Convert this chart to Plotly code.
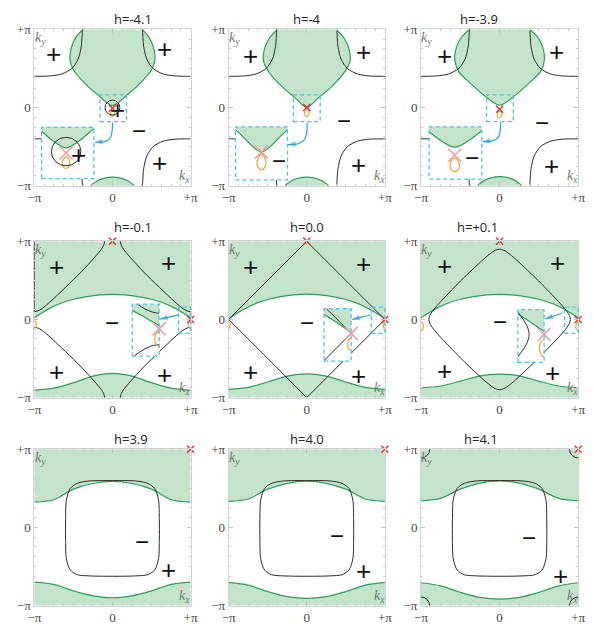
import plotly.graph_objects as go

W, H = 594, 637
COLS = [(28, 188), (227, 387), (424, 585)]      # plot-area pixel spans per column
ROWS = [(23, 183), (240, 400), (453, 613)]      # plot-area pixel spans per row (from top)
TITLE_Y = [12, 225, 442]

PANEL_TITLES = ["h=-4.1", "h=-4", "h=-3.9",
                "h=-0.1", "h=0.0", "h=+0.1",
                "h=3.9", "h=4.0", "h=4.1"]
TICK_VALS = [-1, 0, 1]
TICK_TEXT = ["\u2212\u03c0", "0", "+\u03c0"]

# ---------------- top row: h = -4.1, -4, -3.9  (momenta in units of pi) ----------------
LOBE_KY = [
    [1.0, 0.895, 0.77, 0.623, 0.49, 0.31, 0.163, 0.025],
    [1.0, 0.9, 0.77, 0.6, 0.456, 0.268, 0.121, 0.0],
    [1.0, 0.9, 0.77, 0.6, 0.46, 0.3, 0.15, 0.03],
]
LOBE_HALF_WIDTH = [
    [0.38, 0.47, 0.525, 0.545, 0.505, 0.354, 0.19, 0.0],
    [0.375, 0.47, 0.535, 0.555, 0.485, 0.318, 0.146, 0.0],
    [0.385, 0.485, 0.55, 0.568, 0.52, 0.36, 0.19, 0.0],
]
BUMP_KX = [-0.28, -0.2, -0.1, 0.0, 0.1, 0.2, 0.28]
BUMP_KY = [
    [-1.0, -0.94, -0.903, -0.891, -0.903, -0.94, -1.0],
    [-1.0, -0.94, -0.902, -0.89, -0.902, -0.94, -1.0],
    [-1.0, -0.935, -0.896, -0.883, -0.896, -0.935, -1.0],
]
# Fermi line near the (-pi, +pi) corner; the other three corners are mirror images
CORNER_KX = [-1.03, -1.0, -0.8, -0.65, -0.52, -0.44, -0.40, -0.385, -0.384]
CORNER_KY = [0.40, 0.40, 0.405, 0.43, 0.5, 0.62, 0.78, 1.0, 1.03]
NODE_KY_TOP = [-0.01, 0.0, -0.023]
LOOP_TOP_KX = [
    [0, 0.014, 0.022, 0.025, 0.02, 0, -0.02, -0.025, -0.022, -0.014, 0],
    [0, 0.016, 0.026, 0.03, 0.024, 0, -0.024, -0.03, -0.026, -0.016, 0],
    [0, 0.017, 0.027, 0.031, 0.025, 0, -0.025, -0.031, -0.027, -0.017, 0],
]
LOOP_TOP_KY = [
    [-0.035, -0.047, -0.062, -0.082, -0.099, -0.113, -0.099, -0.082, -0.062, -0.047, -0.035],
    [-0.012, -0.028, -0.048, -0.074, -0.096, -0.115, -0.096, -0.074, -0.048, -0.028, -0.012],
    [-0.04, -0.054, -0.072, -0.094, -0.114, -0.13, -0.114, -0.094, -0.072, -0.054, -0.04],
]
RING_CENTER = (0.0, 0.0)
RING_RADIUS = 0.095
INSET_BOX_TOP = [[-0.9075, -0.2375, -0.909, -0.25],
                 [-0.912, -0.247, -0.925, -0.247],
                 [-0.897, -0.227, -0.916, -0.247]]
INSET_VIEW_TOP = [[-0.158, 0.179, -0.18, 0.163],
                  [-0.172, 0.172, -0.18, 0.163],
                  [-0.165, 0.174, -0.18, 0.163]]
ARROW_TOP_KX = [[0.0, -0.004, -0.03, -0.1, -0.225],
                [0.004, 0.0, -0.03, -0.11, -0.24],
                [0.012, 0.008, -0.02, -0.09, -0.218]]
ARROW_TOP_KY = [[-0.19, -0.3, -0.39, -0.435, -0.444],
                [-0.19, -0.31, -0.41, -0.463, -0.473],
                [-0.19, -0.3, -0.385, -0.427, -0.435]]
SIGNS_TOP = [
    [("+", -0.755, 0.68), ("+", 0.667, 0.749), ("\u2212", 0.346, -0.297),
     ("+", 0.604, -0.715), ("+", 0.0625, -0.025)],
    [("+", -0.715, 0.665), ("+", 0.728, 0.707), ("\u2212", 0.477, -0.17), ("+", 0.665, -0.736)],
    [("+", -0.702, 0.657), ("+", 0.723, 0.707), ("\u2212", 0.537, -0.192), ("+", 0.661, -0.745)],
]
INSET_SIGNS_TOP = [("+", 0.083, -0.021), ("\u2212", 0.113, -0.053), ("\u2212", 0.111, -0.038)]

# ---------------- middle row: h = -0.1, 0.0, +0.1 ----------------
ARC_KX = [-1.0, -0.9, -0.8, -0.6, -0.35, 0.0, 0.35, 0.6, 0.8, 0.9, 1.0]
ARC_KY = [
    [0.02, 0.085, 0.145, 0.23, 0.29, 0.32, 0.29, 0.23, 0.145, 0.085, 0.02],
    [0.005, 0.075, 0.135, 0.225, 0.29, 0.325, 0.29, 0.225, 0.135, 0.075, 0.005],
    [0.02, 0.085, 0.145, 0.23, 0.29, 0.32, 0.29, 0.23, 0.145, 0.085, 0.02],
]
WAVE_KX = [-1.0, -0.75, -0.5, -0.25, 0.0, 0.25, 0.5, 0.75, 1.0]
WAVE_KY = [
    [-0.908, -0.88, -0.81, -0.725, -0.69, -0.725, -0.81, -0.88, -0.908],
    [-0.896, -0.87, -0.8, -0.725, -0.696, -0.725, -0.8, -0.87, -0.896],
    [-0.875, -0.852, -0.79, -0.722, -0.70, -0.722, -0.79, -0.852, -0.875],
]
# h=-0.1: open line in the (-pi, +pi) quadrant, mirrored to the others
OPEN_KX = [-1.03, -1.0, -0.96, -0.9, -0.8, -0.6, -0.4, -0.224, -0.141, -0.112, -0.1, -0.1]
OPEN_KY = [0.1, 0.1, 0.108, 0.14, 0.224, 0.412, 0.608, 0.8, 0.9, 0.95, 1.0, 1.03]
EDGE_KX = [-1.0, -1.0]
EDGE_KY = [0.1, 1.0]
# h=0.0: square Fermi line
DIAMOND_KX = [-1.0, 0.0, 1.0, 0.0, -1.0]
DIAMOND_KY = [0.0, 1.0, 0.0, -1.0, 0.0]
# h=+0.1: closed line, first quadrant from the top vertex to the right vertex
CLOSED_Q_KX = [0.0, 0.05, 0.1, 0.2, 0.35, 0.495, 0.635, 0.776, 0.858, 0.888, 0.9]
CLOSED_Q_KY = [0.9, 0.888, 0.858, 0.776, 0.635, 0.495, 0.35, 0.2, 0.1, 0.05, 0.0]
ORANGE_MID_KX = [
    [1.0, 0.982, 0.975, 0.982, 1.0, 1.018, 1.025, 1.018, 1.0],
    [1.0, 0.984, 0.978, 0.984, 1.0, 1.016, 1.022, 1.016, 1.0],
    [1.0, 0.979, 0.97, 0.979, 1.0, 1.021, 1.03, 1.021, 1.0],
]
ORANGE_MID_KY = [
    [-0.017, -0.031, -0.065, -0.099, -0.113, -0.099, -0.065, -0.031, -0.017],
    [-0.03, -0.042, -0.07, -0.098, -0.11, -0.098, -0.07, -0.042, -0.03],
    [-0.033, -0.049, -0.088, -0.127, -0.143, -0.127, -0.088, -0.049, -0.033],
]
NODES_MID_KX = [0.0, 1.0]
NODES_MID_KY = [1.0, 0.0]
INSET_BOX_MID = [[0.253, 0.598, -0.469, 0.196],
                 [0.221, 0.5675, -0.534, 0.1375],
                 [0.2325, 0.566, -0.55, 0.125]]
INSET_VIEW_MID = [[0.847, 1.0, -0.174, 0.158],
                  [0.825, 1.0, -0.179, 0.159],
                  [0.825, 1.0, -0.179, 0.159]]
ARROW_MID_KX = [[0.84, 0.72, 0.61], [0.82, 0.70, 0.58], [0.80, 0.69, 0.58]]
ARROW_MID_KY = [[0.055, 0.03, 0.003], [0.054, 0.03, 0.0], [0.083, 0.045, 0.008]]
SIGNS_MID = [
    [("+", -0.71, 0.667), ("+", 0.722, 0.729), ("\u2212", 0.0, -0.042),
     ("+", -0.71, -0.667), ("+", 0.66, -0.708)],
    [("+", -0.717, 0.667), ("+", 0.72, 0.708), ("\u2212", 0.0, -0.04),
     ("+", -0.717, -0.667), ("+", 0.658, -0.73)],
    [("+", -0.696, 0.6875), ("+", 0.742, 0.729), ("\u2212", 0.0, -0.02),
     ("+", -0.696, -0.658), ("+", 0.679, -0.6875)],
]

# ---------------- bottom row: h = 3.9, 4.0, 4.1 ----------------
BAND_KX = [-1.0, -0.75, -0.5, -0.25, 0.0, 0.25, 0.5, 0.75, 1.0]
UPPER_BAND_KY = [
    [0.325, 0.355, 0.49, 0.5625, 0.59, 0.5625, 0.49, 0.355, 0.325],
    [0.333, 0.364, 0.49, 0.565, 0.593, 0.565, 0.49, 0.364, 0.333],
    [0.342, 0.373, 0.49, 0.568, 0.596, 0.568, 0.49, 0.373, 0.342],
]
LOWER_BAND_KY = [
    [-0.70, -0.729, -0.8125, -0.875, -0.9, -0.875, -0.8125, -0.729, -0.70],
    [-0.704, -0.738, -0.821, -0.885, -0.908, -0.885, -0.821, -0.738, -0.704],
    [-0.708, -0.747, -0.83, -0.896, -0.917, -0.896, -0.83, -0.747, -0.708],
]
LOOP_BOT_KX = [0.0, 0.3, 0.45, 0.54, 0.59, 0.6, 0.6, 0.59, 0.54, 0.45, 0.3, 0.0,
               -0.3, -0.45, -0.54, -0.59, -0.6, -0.6, -0.59, -0.54, -0.45, -0.3, 0.0]
LOOP_BOT_KY = [0.6, 0.595, 0.565, 0.5, 0.35, 0.1, -0.15, -0.4, -0.545, -0.605, -0.62, -0.625,
               -0.62, -0.605, -0.545, -0.4, -0.15, 0.1, 0.35, 0.5, 0.565, 0.595, 0.6]
NODE_BOT = (1.0, 1.0)
CORNER_RING_R = 0.11
CORNER_RING_CENTERS = [(-1, -1), (-1, 1), (1, -1), (1, 1)]
SIGNS_BOT = [
    [("\u2212", 0.375, -0.18), ("+", 0.717, -0.54)],
    [("\u2212", 0.39, -0.1), ("+", 0.73, -0.56)],
    [("\u2212", 0.378, -0.133), ("+", 0.77, -0.625)],
]
KY_LABEL_POS = (-0.925, 0.885)
KX_LABEL_POS = (0.925, -0.885)

# ---------------- styling ----------------
FILL = "#c3e4cb"
EDGE = "#2e9e58"
INK = "#2b2b2b"
ORANGE = "#f4a233"
RED = "#e5302a"
PINK = "#f29c9c"
CYAN = "#4fc1ec"
ARROW = "#29a3df"
FRAME = "#d4d4d4"
SERIF = "Liberation Serif"
SANS = "Liberation Sans"

fig = go.Figure()
layout_axes = {}
annotations = []
shapes = []


def ax_ids(n):
    return ("x" if n == 1 else f"x{n}"), ("y" if n == 1 else f"y{n}")


def to_paper(r, c, kx, ky):
    x0, x1 = COLS[c]
    y0, y1 = ROWS[r]
    px = x0 + (kx + 1) / 2 * (x1 - x0)
    py = y1 - (ky + 1) / 2 * (y1 - y0)
    return px / W, 1 - py / H


def curve(xa, ya, xs, ys, color, width=1.0, shape="spline"):
    fig.add_trace(go.Scatter(x=xs, y=ys, xaxis=xa, yaxis=ya, mode="lines",
                             line=dict(color=color, width=width, shape=shape, smoothing=0.8),
                             hoverinfo="skip", showlegend=False))


def area(xa, ya, xs, ys, color=FILL, shape="spline"):
    fig.add_trace(go.Scatter(x=xs, y=ys, xaxis=xa, yaxis=ya, mode="lines", fill="toself",
                             fillcolor=color, line=dict(width=0, shape=shape, smoothing=0.8),
                             hoverinfo="skip", showlegend=False))


def nodes(xa, ya, xs, ys, big, view=None):
    if view is not None:
        keep = [(x, y) for x, y in zip(xs, ys)
                if view[0] - 1e-6 <= x <= view[1] + 1e-6 and view[2] - 1e-6 <= y <= view[3] + 1e-6]
        xs = [p[0] for p in keep]
        ys = [p[1] for p in keep]
    if not xs:
        return
    fig.add_trace(go.Scatter(x=xs, y=ys, xaxis=xa, yaxis=ya, mode="markers", cliponaxis=False,
                             marker=dict(symbol="x-thin", size=13 if big else 7,
                                         line=dict(color=PINK if big else RED,
                                                   width=1.5 if big else 1.4)),
                             hoverinfo="skip", showlegend=False))


def ring(xa, ya, cx, cy, r):
    shapes.append(dict(type="circle", xref=xa, yref=ya, x0=cx - r, x1=cx + r,
                       y0=cy - r, y1=cy + r, line=dict(color=INK, width=1), layer="above"))


def mirrored(xs, ys):
    out = []
    for sx, sy in ((1, 1), (-1, 1), (1, -1), (-1, -1)):
        out.append(([sx * x for x in xs], [sy * y for y in ys]))
    return out


def draw_top(k, xa, ya, big, view=None):
    hw, ky = LOBE_HALF_WIDTH[k], LOBE_KY[k]
    bx = [-w for w in hw] + [w for w in hw[-2::-1]]
    by = ky + ky[-2::-1]
    area(xa, ya, [bx[0]] + bx + [bx[-1]], [1.12] + by + [1.12])
    curve(xa, ya, bx, by, EDGE, 1.2)
    area(xa, ya, [BUMP_KX[0]] + BUMP_KX + [BUMP_KX[-1]], [-1.12] + BUMP_KY[k] + [-1.12])
    curve(xa, ya, BUMP_KX, BUMP_KY[k], EDGE, 1.2)
    for xs, ys in mirrored(CORNER_KX, CORNER_KY):
        curve(xa, ya, xs, ys, INK, 1.0)
    if k == 0:
        ring(xa, ya, RING_CENTER[0], RING_CENTER[1], RING_RADIUS)
    curve(xa, ya, LOOP_TOP_KX[k], LOOP_TOP_KY[k], ORANGE, 1.2)
    nodes(xa, ya, [0.0], [NODE_KY_TOP[k]], big, view)


def draw_mid(k, xa, ya, big, view=None):
    ay = ARC_KY[k]
    area(xa, ya, ARC_KX + [1.12, 1.12, -1.12, -1.12], ay + [ay[-1], 1.12, 1.12, ay[0]])
    curve(xa, ya, ARC_KX, ay, EDGE, 1.2)
    wy = WAVE_KY[k]
    area(xa, ya, WAVE_KX + [1.12, 1.12, -1.12, -1.12], wy + [wy[-1], -1.12, -1.12, wy[0]])
    curve(xa, ya, WAVE_KX, wy, EDGE, 1.2)
    if k == 0:
        for xs, ys in mirrored(OPEN_KX, OPEN_KY):
            curve(xa, ya, xs, ys, INK, 1.0)
        curve(xa, ya, EDGE_KX, EDGE_KY, INK, 1.2, "linear")
    elif k == 1:
        curve(xa, ya, DIAMOND_KX, DIAMOND_KY, INK, 1.0, "linear")
    else:
        q = list(zip(CLOSED_Q_KX, CLOSED_Q_KY))
        pts = q + [(x, -y) for x, y in q[::-1]][1:] + [(-x, -y) for x, y in q][1:] \
            + [(-x, y) for x, y in q[::-1]][1:]
        curve(xa, ya, [p[0] for p in pts], [p[1] for p in pts], INK, 1.0)
    ox, oy = ORANGE_MID_KX[k], ORANGE_MID_KY[k]
    curve(xa, ya, ox, oy, ORANGE, 1.2)
    curve(xa, ya, [x - 2 for x in ox], oy, ORANGE, 1.2)   # periodic copy at -pi
    nodes(xa, ya, NODES_MID_KX, NODES_MID_KY, big, view)


def draw_bot(k, xa, ya):
    uy, ly = UPPER_BAND_KY[k], LOWER_BAND_KY[k]
    area(xa, ya, BAND_KX + [1.12, 1.12, -1.12, -1.12], uy + [uy[-1], 1.12, 1.12, uy[0]])
    curve(xa, ya, BAND_KX, uy, EDGE, 1.2)
    area(xa, ya, BAND_KX + [1.12, 1.12, -1.12, -1.12], ly + [ly[-1], -1.12, -1.12, ly[0]])
    curve(xa, ya, BAND_KX, ly, EDGE, 1.2)
    curve(xa, ya, LOOP_BOT_KX, LOOP_BOT_KY, INK, 1.0)
    if k == 2:
        for cx, cy in CORNER_RING_CENTERS:
            ring(xa, ya, cx, cy, CORNER_RING_R)
    nodes(xa, ya, [NODE_BOT[0]], [NODE_BOT[1]], False)


def sign(xa, ya, text, x, y):
    annotations.append(dict(xref=xa, yref=ya, x=x, y=y, text=text, showarrow=False,
                            font=dict(family=SANS, size=26 if text == "+" else 24, color="#111")))


def dashed_box(r, c, box):
    x0, y0 = to_paper(r, c, box[0], box[2])
    x1, y1 = to_paper(r, c, box[1], box[3])
    shapes.append(dict(type="rect", xref="paper", yref="paper", x0=x0, x1=x1, y0=y0, y1=y1,
                       line=dict(color=CYAN, width=1.3, dash="4px,3px"), layer="above"))


# ---------------- main panels ----------------
for i in range(9):
    r, c = divmod(i, 3)
    n = i + 1
    xa, ya = ax_ids(n)
    tickfont = dict(family=SERIF, size=13, color="#444")
    common = dict(range=[-1, 1], autorange=False, tickmode="array", tickvals=TICK_VALS,
                  ticktext=TICK_TEXT, showline=True, linecolor=FRAME, linewidth=1,
                  mirror="allticks", ticks="inside", ticklen=4, tickcolor="#c4c4c4",
                  minor=dict(ticks="inside", ticklen=2, tickmode="linear", tick0=0,
                             dtick=0.125, tickcolor="#d0d0d0", showgrid=False),
                  showgrid=False, zeroline=False, tickfont=tickfont, fixedrange=True)
    layout_axes["xaxis" if n == 1 else f"xaxis{n}"] = dict(
        domain=[COLS[c][0] / W, COLS[c][1] / W], anchor=ya, **common)
    layout_axes["yaxis" if n == 1 else f"yaxis{n}"] = dict(
        domain=[1 - ROWS[r][1] / H, 1 - ROWS[r][0] / H], anchor=xa, **common)

    if r == 0:
        draw_top(c, xa, ya, False)
        signs = SIGNS_TOP[c]
    elif r == 1:
        draw_mid(c, xa, ya, False)
        signs = SIGNS_MID[c]
    else:
        draw_bot(c, xa, ya)
        signs = SIGNS_BOT[c]
    for t, x, y in signs:
        sign(xa, ya, t, x, y)

    annotations.append(dict(xref=xa, yref=ya, x=KY_LABEL_POS[0], y=KY_LABEL_POS[1],
                            text="<i>k</i><sub><i>y</i></sub>", showarrow=False,
                            font=dict(family=SERIF, size=14, color="#6f7a72")))
    annotations.append(dict(xref=xa, yref=ya, x=KX_LABEL_POS[0], y=KX_LABEL_POS[1],
                            text="<i>k</i><sub><i>x</i></sub>", showarrow=False,
                            font=dict(family=SERIF, size=14, color="#6f7a72")))
    annotations.append(dict(xref="paper", yref="paper",
                            x=(COLS[c][0] + COLS[c][1]) / 2 / W, y=1 - TITLE_Y[r] / H,
                            text=PANEL_TITLES[i], showarrow=False, yanchor="middle",
                            font=dict(family="Open Sans", size=13, color="#222")))

# ---------------- magnified insets (top and middle rows) ----------------
n = 10
for r in (0, 1):
    for c in range(3):
        box = INSET_BOX_TOP[c] if r == 0 else INSET_BOX_MID[c]
        view = INSET_VIEW_TOP[c] if r == 0 else INSET_VIEW_MID[c]
        xa, ya = ax_ids(n)
        main_xa, main_ya = ax_ids(r * 3 + c + 1)
        px0, py0 = to_paper(r, c, box[0], box[2])
        px1, py1 = to_paper(r, c, box[1], box[3])
        layout_axes[f"xaxis{n}"] = dict(domain=[px0, px1], range=[view[0], view[1]],
                                        autorange=False, visible=False, anchor=ya, fixedrange=True)
        layout_axes[f"yaxis{n}"] = dict(domain=[py0, py1], range=[view[2], view[3]],
                                        autorange=False, visible=False, anchor=xa, fixedrange=True)
        area(xa, ya, [view[0], view[1], view[1], view[0]],
             [view[2], view[2], view[3], view[3]], color="white", shape="linear")
        if r == 0:
            draw_top(c, xa, ya, True, view)
            t, x, y = INSET_SIGNS_TOP[c]
            sign(xa, ya, t, x, y)
            ax_kx, ax_ky = ARROW_TOP_KX[c], ARROW_TOP_KY[c]
        else:
            draw_mid(c, xa, ya, True, view)
            ax_kx, ax_ky = ARROW_MID_KX[c], ARROW_MID_KY[c]
        dashed_box(r, c, box)
        dashed_box(r, c, view)
        m = len(ax_kx)
        fig.add_trace(go.Scatter(x=ax_kx, y=ax_ky, xaxis=main_xa, yaxis=main_ya,
                                 mode="lines+markers", cliponaxis=False,
                                 line=dict(color=ARROW, width=1.2, shape="spline"),
                                 marker=dict(symbol=["circle"] * (m - 1) + ["arrow"],
                                             size=[0] * (m - 1) + [8], angleref="previous",
                                             color=ARROW, line=dict(width=0)),
                                 hoverinfo="skip", showlegend=False))
        n += 1

fig.update_layout(width=W, height=H, margin=dict(l=0, r=0, t=0, b=0),
                  paper_bgcolor="white", plot_bgcolor="white",
                  annotations=annotations, shapes=shapes, showlegend=False, **layout_axes)
fig.write_html("out.html")
